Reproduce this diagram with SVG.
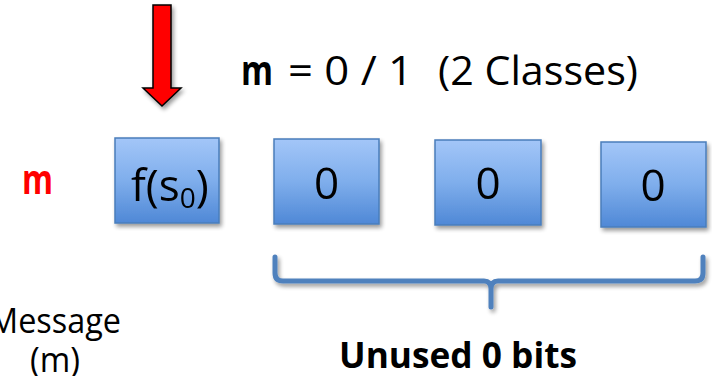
<svg xmlns="http://www.w3.org/2000/svg" width="712" height="376" viewBox="0 0 712 376">
  <defs>
    <linearGradient id="cellFill" x1="0" y1="0" x2="0" y2="1">
      <stop offset="0" stop-color="#A3C6F8"/>
      <stop offset="0.5" stop-color="#7FAEEC"/>
      <stop offset="1" stop-color="#4F88D6"/>
    </linearGradient>
    <filter id="shadow" x="-20%" y="-20%" width="150%" height="150%">
      <feGaussianBlur in="SourceAlpha" stdDeviation="2.2"/>
      <feOffset dx="1.5" dy="3" result="b"/>
      <feComponentTransfer><feFuncA type="linear" slope="0.4"/></feComponentTransfer>
      <feMerge><feMergeNode/><feMergeNode in="SourceGraphic"/></feMerge>
    </filter>
    <style>
      .cell { fill: url(#cellFill); stroke: #4A7EBB; stroke-width: 1.5; }
      .cellText { font-family: "Open Sans", "Liberation Sans", sans-serif; font-size: 44px; fill: #000; text-anchor: middle; }
      .label { font-family: "Open Sans", "Liberation Sans", sans-serif; fill: #000; }
      .brace { fill: none; stroke: #4F81BD; stroke-width: 5; stroke-linecap: round; stroke-linejoin: round; }
    </style>
  </defs>

  <rect width="712" height="376" fill="#FFFFFF"/>

  <!-- pointer arrow onto the first cell -->
  <g id="pointer" filter="url(#shadow)">
    <polygon points="153,5 171,5 171,88 181,88 162,106 143,88 153,88" fill="#FF0000" stroke="#000" stroke-width="1.5" stroke-linejoin="miter"/>
  </g>

  <!-- title -->
  <g id="title">
    <text class="label" y="85" font-size="41">
      <tspan x="241" font-weight="bold" textLength="32" lengthAdjust="spacingAndGlyphs">m</tspan>
      <tspan x="288" textLength="125" lengthAdjust="spacingAndGlyphs">= 0 / 1</tspan>
      <tspan x="438" textLength="200" lengthAdjust="spacingAndGlyphs">(2 Classes)</tspan>
    </text>
  </g>

  <!-- red message marker -->
  <g id="marker-m">
    <text class="label" x="22" y="194" font-size="42" font-weight="bold" style="fill:#FF0000" textLength="31" lengthAdjust="spacingAndGlyphs">m</text>
  </g>

  <!-- cells -->
  <g id="cell-f" filter="url(#shadow)">
    <rect class="cell" x="115" y="138" width="104" height="85"/>
    <text class="label" x="131" y="201" font-size="44">f(s<tspan font-size="28" dy="7">0</tspan><tspan dy="-7">)</tspan></text>
  </g>
  <g id="cell-1" filter="url(#shadow)">
    <rect class="cell" x="274" y="139" width="105" height="85"/>
    <text class="cellText" x="326.5" y="199">0</text>
  </g>
  <g id="cell-2" filter="url(#shadow)">
    <rect class="cell" x="435" y="140" width="106" height="85"/>
    <text class="cellText" x="488" y="199">0</text>
  </g>
  <g id="cell-3" filter="url(#shadow)">
    <rect class="cell" x="601" y="142" width="105" height="85"/>
    <text class="cellText" x="653" y="201">0</text>
  </g>

  <!-- brace grouping the unused cells -->
  <g id="connectors" filter="url(#shadow)">
    <path class="brace" d="M275,257 V273 Q275,281 283,281 H484 Q491,281 491,289 V307 M491,289 Q491,281 498,281 H695 Q703,281 703,273 V257"/>
  </g>

  <!-- bottom labels -->
  <g id="label-message">
    <text class="label" x="55" y="333" font-size="35" text-anchor="middle" textLength="132" lengthAdjust="spacingAndGlyphs">Message</text>
    <text class="label" x="55" y="372" font-size="35" text-anchor="middle" textLength="50" lengthAdjust="spacingAndGlyphs">(m)</text>
  </g>
  <g id="label-unused">
    <text class="label" x="339" y="368" font-size="35" font-weight="bold" textLength="238" lengthAdjust="spacingAndGlyphs">Unused 0 bits</text>
  </g>
</svg>
